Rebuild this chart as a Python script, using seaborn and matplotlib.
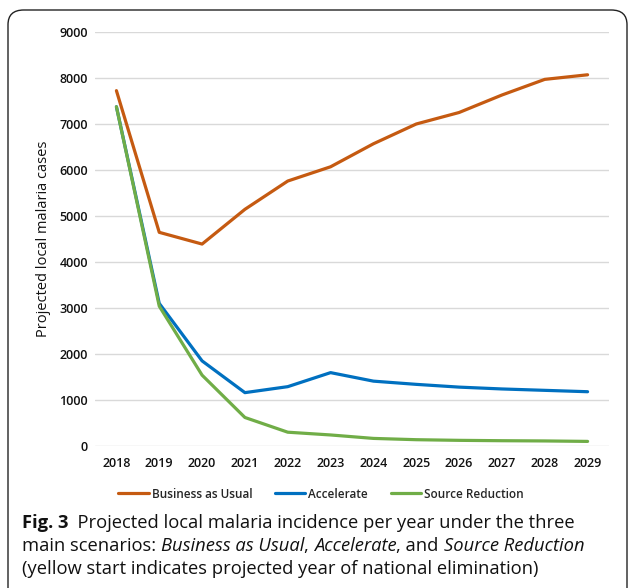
import pandas as pd
import matplotlib.pyplot as plt
import seaborn as sns
from matplotlib.patches import FancyBboxPatch

years = list(range(2018, 2030))
business_as_usual = [7725, 4645, 4390, 5145, 5760, 6070, 6570, 7000, 7250, 7630, 7970, 8070]
accelerate = [7375, 3100, 1850, 1160, 1290, 1595, 1410, 1340, 1280, 1240, 1210, 1180]
source_reduction = [7375, 3040, 1540, 620, 300, 240, 165, 137, 123, 115, 110, 100]
scenarios = ["Business as Usual", "Accelerate", "Source Reduction"]
colors = ["#C55A11", "#0070C0", "#70AD47"]
y_ticks = list(range(0, 10000, 1000))

df = pd.DataFrame({
    "year": years * 3,
    "cases": business_as_usual + accelerate + source_reduction,
    "scenario": [s for s in scenarios for _ in years],
})

sns.set_style("white")
plt.rcParams["font.family"] = ["Open Sans", "DejaVu Sans"]

W, H = 630, 588
fig = plt.figure(figsize=(W / 100, H / 100), dpi=100)

# rounded frame around the whole figure panel
frame = FancyBboxPatch((8 / W, -20 / H), 619 / W, (H - 10 + 20) / H,
                       boxstyle="round,pad=0,rounding_size=0.025",
                       transform=fig.transFigure, fill=False,
                       edgecolor="#222222", linewidth=1.0)
fig.patches.append(frame)

ax = fig.add_axes([95 / W, 1 - 446 / H, (609 - 95) / W, (446 - 32) / H])
sns.lineplot(data=df, x="year", y="cases", hue="scenario", hue_order=scenarios,
             palette=colors, linewidth=2.3, ax=ax, legend=False)

ax.set_xlim(2017.5, 2029.5)
ax.set_ylim(0, 9000)
ax.set_xticks(years)
ax.set_yticks(y_ticks)
ax.tick_params(axis="both", length=0, labelsize=9, colors="#111111")
ax.tick_params(axis="x", pad=8)
ax.tick_params(axis="y", pad=5)
for lab in ax.get_xticklabels() + ax.get_yticklabels():
    lab.set_fontweight("semibold")
ax.grid(axis="y", color="#d9d9d9", linewidth=1.0)
ax.set_axisbelow(True)
for s in ax.spines.values():
    s.set_visible(False)
ax.set_xlabel("")
ax.set_ylabel("Projected local malaria cases", fontsize=10.5, labelpad=6, color="#111111")

handles = [plt.Line2D([], [], color=c, linewidth=2.3) for c in colors]
fig.legend(handles, scenarios, loc="center", bbox_to_anchor=(321 / W, 1 - 494 / H),
           ncol=3, frameon=False, handlelength=2.6,
           handletextpad=0.25, columnspacing=1.9,
           prop={"size": 8.5, "weight": "semibold"})

# caption with mixed styles
caption = [
    [("Fig. 3", "bold", "normal"), ("  Projected local malaria incidence per year under the three", "normal", "normal")],
    [("main scenarios: ", "normal", "normal"), ("Business as Usual", "normal", "italic"), (", ", "normal", "normal"),
     ("Accelerate", "normal", "italic"), (", and ", "normal", "normal"), ("Source Reduction", "normal", "italic")],
    [("(yellow start indicates projected year of national elimination)", "normal", "normal")],
]
baselines = [528, 551, 574]
fig.canvas.draw()
renderer = fig.canvas.get_renderer()
for line, yb in zip(caption, baselines):
    x = 22
    for txt, weight, style in line:
        t = fig.text(x / W, 1 - yb / H, txt, fontsize=13.2, fontweight=weight,
                     fontstyle=style, ha="left", va="baseline", color="#111111")
        x += t.get_window_extent(renderer).width

fig.savefig("out.png", dpi=100)
